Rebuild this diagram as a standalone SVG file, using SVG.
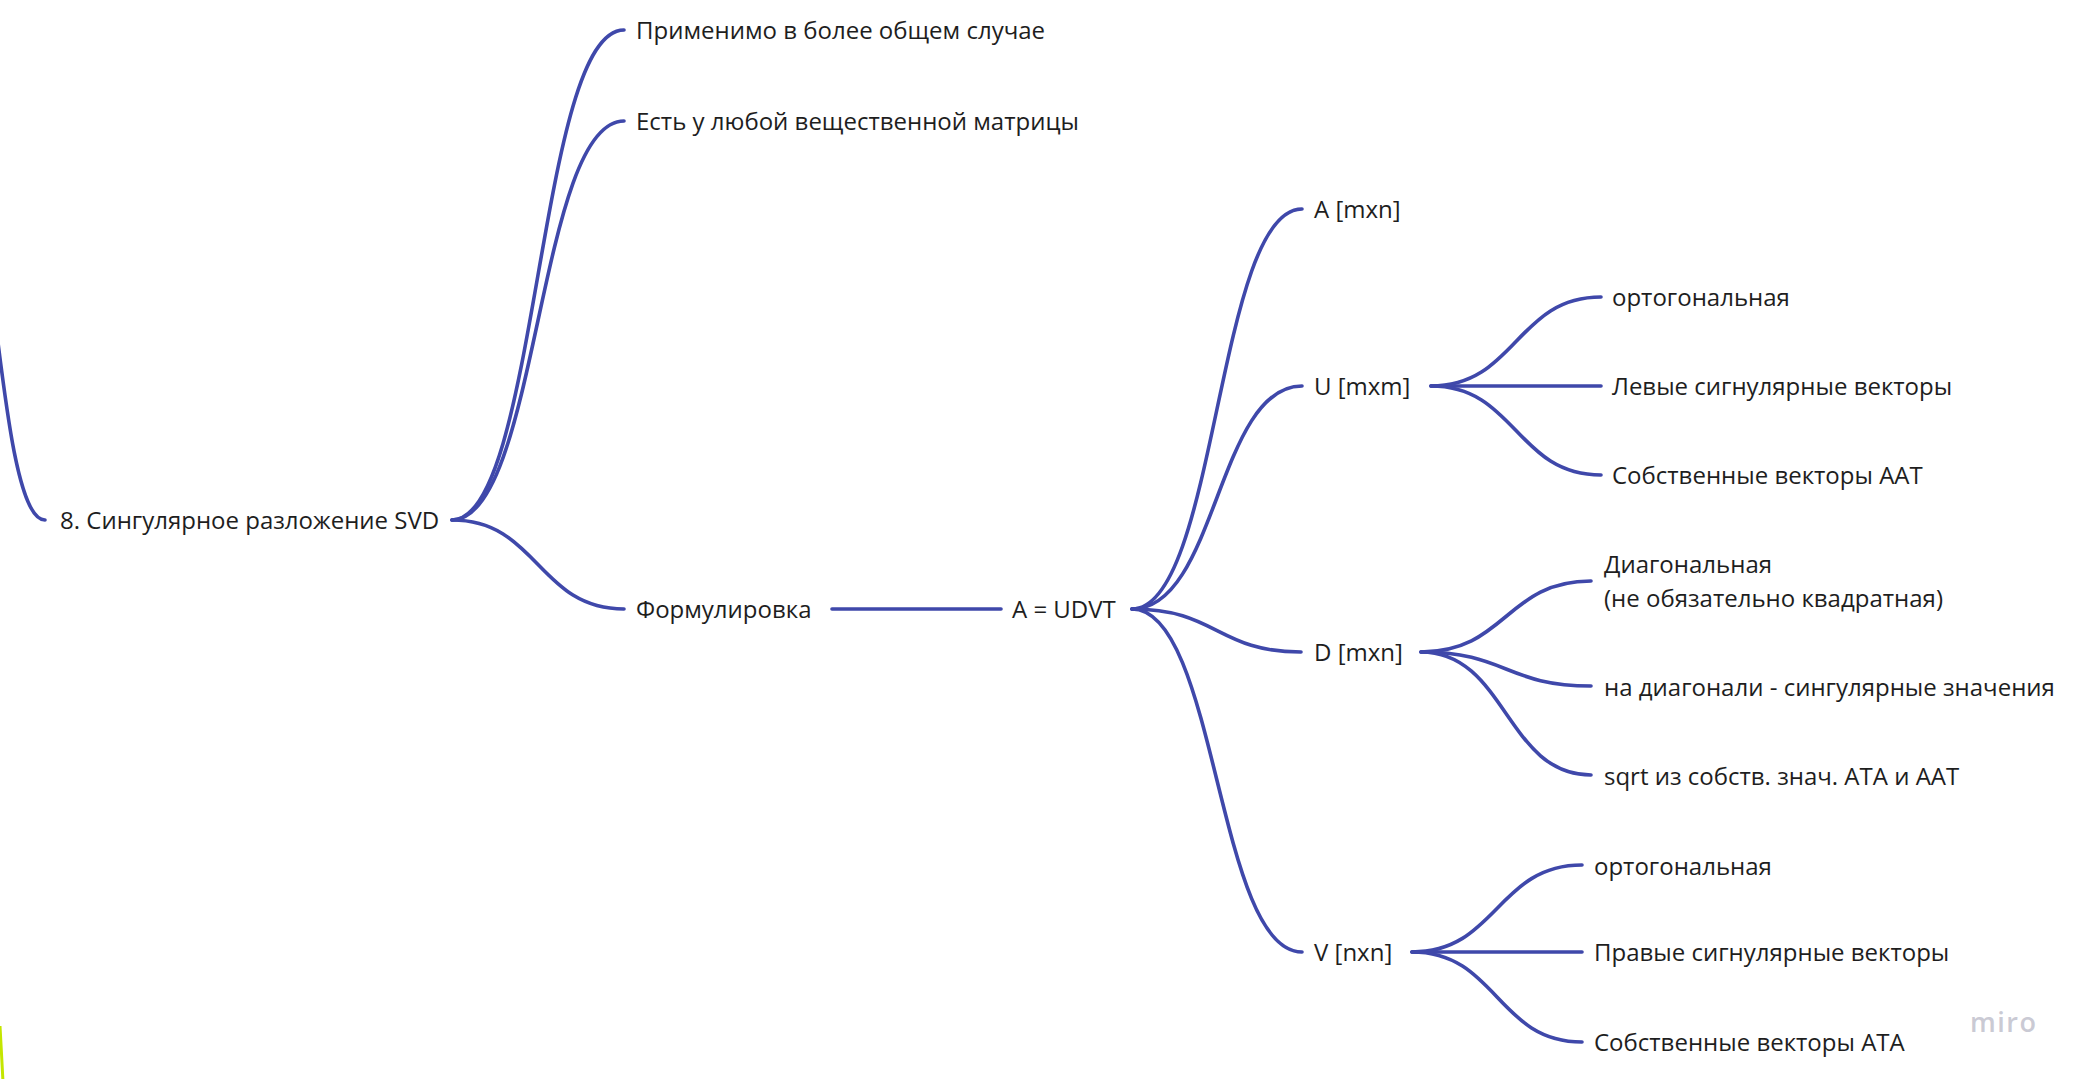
<svg xmlns="http://www.w3.org/2000/svg" width="2083" height="1079" viewBox="0 0 2083 1079">
<style>
.c{fill:none;stroke:#3f48aa;stroke-width:3.6;stroke-linecap:round}
.t{font-family:"Open Sans","Noto Sans","Liberation Sans",sans-serif;font-size:24px;fill:#1e1e1e;dominant-baseline:central}
.w{font-family:"Open Sans","Noto Sans",sans-serif;font-size:27px;font-weight:600;fill:#cacad4;letter-spacing:1.5px;dominant-baseline:central}
</style>
<rect width="2083" height="1079" fill="#ffffff"/>
<g id="connectors">
<path class="c" d="M-60,82 C-7,82 -7,520 45,520"/>
<path class="c" d="M452,520 C538,520 538,30 624,30"/>
<path class="c" d="M452,520 C538,520 538,121 624,121"/>
<path class="c" d="M452,520 C538,520 538,609 624,609"/>
<path class="c" d="M832,609 L1001,609"/>
<path class="c" d="M1132,609 C1217,609 1217,209 1302,209"/>
<path class="c" d="M1132,609 C1217,609 1217,386 1302,386"/>
<path class="c" d="M1132,609 C1217,609 1217,652 1301,652"/>
<path class="c" d="M1132,609 C1217,609 1217,952 1302,952"/>
<path class="c" d="M1431,386 C1516,386 1516,297 1601,297"/>
<path class="c" d="M1431,386 L1601,386"/>
<path class="c" d="M1431,386 C1516,386 1516,475 1601,475"/>
<path class="c" d="M1421,652 C1506,652 1506,581 1591,581"/>
<path class="c" d="M1421,652 C1506,652 1506,686 1591,686"/>
<path class="c" d="M1421,652 C1506,652 1506,775 1591,775"/>
<path class="c" d="M1412,952 C1497,952 1497,865 1582,865"/>
<path class="c" d="M1412,952 L1582,952"/>
<path class="c" d="M1412,952 C1497,952 1497,1042 1582,1042"/>
<path d="M0,1026 C1,1045 2,1062 3,1082" fill="none" stroke="#c4e600" stroke-width="3"/>
</g>
<g id="root"><text class="t" x="60" y="519">8. Сингулярное разложение SVD</text></g>
<g id="n-general"><text class="t" x="636" y="29">Применимо в более общем случае</text></g>
<g id="n-any"><text class="t" x="636" y="120">Есть у любой вещественной матрицы</text></g>
<g id="n-form"><text class="t" x="636" y="608">Формулировка</text></g>
<g id="n-eq"><text class="t" x="1012" y="608">A = UDVT</text></g>
<g id="n-a"><text class="t" x="1314" y="208">A [mxn]</text></g>
<g id="n-u"><text class="t" x="1314" y="385">U [mxm]</text></g>
<g id="n-d"><text class="t" x="1314" y="651">D [mxn]</text></g>
<g id="n-v"><text class="t" x="1314" y="951">V [nxn]</text></g>
<g id="n-u1"><text class="t" x="1612" y="296">ортогональная</text></g>
<g id="n-u2"><text class="t" x="1612" y="385">Левые сигнулярные векторы</text></g>
<g id="n-u3"><text class="t" x="1612" y="474">Собственные векторы AAT</text></g>
<g id="n-d1"><text class="t" x="1604" y="563">Диагональная</text><text class="t" x="1604" y="597">(не обязательно квадратная)</text></g>
<g id="n-d2"><text class="t" x="1604" y="686">на диагонали - сингулярные значения</text></g>
<g id="n-d3"><text class="t" x="1604" y="775">sqrt из собств. знач. ATA и AAT</text></g>
<g id="n-v1"><text class="t" x="1594" y="865">ортогональная</text></g>
<g id="n-v2"><text class="t" x="1594" y="951">Правые сигнулярные векторы</text></g>
<g id="n-v3"><text class="t" x="1594" y="1041">Собственные векторы ATA</text></g>
<g id="watermark"><text class="w" x="1970" y="1021">miro</text></g>
</svg>
